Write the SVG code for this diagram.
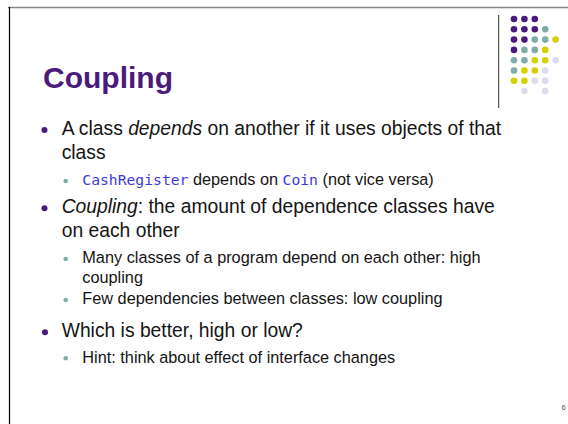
<svg xmlns="http://www.w3.org/2000/svg" width="568" height="424" viewBox="0 0 568 424">
<style>
.t{font-family:"Liberation Sans",Arial,sans-serif;fill:#141414}
.m{font-size:19.3px}
.s{font-size:16.3px}
.c{font-family:"DejaVu Sans Mono","Liberation Mono",monospace;font-size:14.7px;fill:#3b3bd9}
.P{fill:#4b1a7f}.T{fill:#7fabaa}.Y{fill:#d6d000}.L{fill:#dcdcee}
</style>
<rect width="568" height="424" fill="#fff"/>
<g id="frame">
<line x1="8" y1="7.5" x2="568" y2="7.5" stroke="#888" stroke-width="1.5"/>
<line x1="9.5" y1="7" x2="9.5" y2="424" stroke="#000" stroke-width="1.2"/>
<line x1="498.7" y1="15" x2="498.7" y2="108" stroke="#333" stroke-width="1"/>
</g>
<g id="dots">
<circle class="P" cx="514" cy="19" r="3.3"/><circle class="P" cx="524.4" cy="19" r="3.3"/><circle class="P" cx="534.8" cy="19" r="3.3"/>
<circle class="P" cx="514" cy="29.3" r="3.3"/><circle class="P" cx="524.4" cy="29.3" r="3.3"/><circle class="P" cx="534.8" cy="29.3" r="3.3"/><circle class="T" cx="545.2" cy="29.3" r="3.3"/>
<circle class="P" cx="514" cy="39.6" r="3.3"/><circle class="P" cx="524.4" cy="39.6" r="3.3"/><circle class="T" cx="534.8" cy="39.6" r="3.3"/><circle class="T" cx="545.2" cy="39.6" r="3.3"/><circle class="Y" cx="555.6" cy="39.6" r="3.3"/>
<circle class="P" cx="514" cy="49.9" r="3.3"/><circle class="T" cx="524.4" cy="49.9" r="3.3"/><circle class="T" cx="534.8" cy="49.9" r="3.3"/><circle class="Y" cx="545.2" cy="49.9" r="3.3"/>
<circle class="T" cx="514" cy="60.2" r="3.3"/><circle class="T" cx="524.4" cy="60.2" r="3.3"/><circle class="Y" cx="534.8" cy="60.2" r="3.3"/><circle class="Y" cx="545.2" cy="60.2" r="3.3"/><circle class="L" cx="555.6" cy="60.2" r="3.3"/>
<circle class="T" cx="514" cy="70.5" r="3.3"/><circle class="Y" cx="524.4" cy="70.5" r="3.3"/><circle class="Y" cx="534.8" cy="70.5" r="3.3"/><circle class="L" cx="545.2" cy="70.5" r="3.3"/>
<circle class="Y" cx="514" cy="80.8" r="3.3"/><circle class="Y" cx="524.4" cy="80.8" r="3.3"/><circle class="L" cx="534.8" cy="80.8" r="3.3"/><circle class="L" cx="545.2" cy="80.8" r="3.3"/>
<circle class="L" cx="524.4" cy="91.1" r="3.3"/><circle class="L" cx="545.2" cy="91.1" r="3.3"/>
</g>
<g id="title">
<text x="43" y="88" font-family="Liberation Sans,Arial,sans-serif" font-weight="bold" font-size="30px" fill="#4b1a7f">Coupling</text>
</g>
<g id="bullets">
<circle class="P" cx="44.5" cy="130" r="3"/>
<text class="t m" x="61.7" y="135">A class <tspan font-style="italic">depends</tspan> on another if it uses objects of that</text>
<text class="t m" x="61.7" y="159">class</text>
<circle class="T" cx="65.7" cy="181" r="2.3"/>
<text class="t s" x="82.3" y="185"><tspan class="c">CashRegister</tspan> depends on <tspan class="c">Coin</tspan> (not vice versa)</text>
<circle class="P" cx="44.5" cy="208.3" r="3"/>
<text class="t m" x="61.7" y="213.3"><tspan font-style="italic">Coupling</tspan>: the amount of dependence classes have</text>
<text class="t m" x="61.7" y="236.7">on each other</text>
<circle class="T" cx="65.7" cy="259" r="2.3"/>
<text class="t s" x="82.3" y="263.3">Many classes of a program depend on each other: high</text>
<text class="t s" x="82.3" y="283.3">coupling</text>
<circle class="T" cx="65.7" cy="300" r="2.3"/>
<text class="t s" x="82.3" y="304">Few dependencies between classes: low coupling</text>
<circle class="P" cx="45" cy="332.3" r="3"/>
<text class="t m" x="61.7" y="336.7">Which is better, high or low?</text>
<circle class="T" cx="65.7" cy="358.3" r="2.3"/>
<text class="t s" x="82.3" y="362.7">Hint: think about effect of interface changes</text>
</g>
<g id="page">
<text x="563.5" y="410" font-family="Liberation Sans,Arial,sans-serif" font-size="7.5px" fill="#555" text-anchor="middle">6</text>
</g>
</svg>
